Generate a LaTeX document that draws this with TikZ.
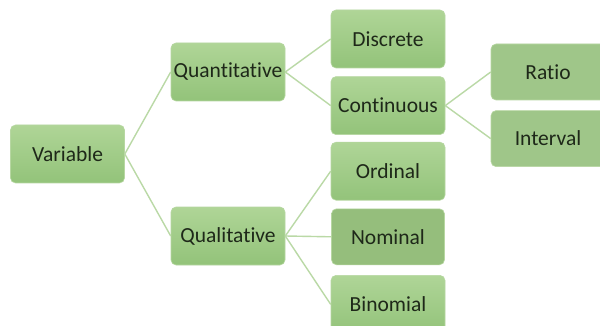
\documentclass[tikz,border=0pt]{standalone}
\usepackage{fontspec}
\setmainfont{Carlito}[RawFeature={-liga;-dlig;-calt;-clig}]
\usetikzlibrary{positioning}
\definecolor{leafline}{HTML}{B7D7A2}
\definecolor{leaftop}{HTML}{AFD597}
\definecolor{leafbottom}{HTML}{93C37A}
\definecolor{leafdark}{HTML}{95BE7C}
\definecolor{leafgrey}{HTML}{9FC689}
\definecolor{linkgreen}{HTML}{BAD9A6}
\definecolor{labeltext}{HTML}{1E2819}
\begin{document}
\begin{tikzpicture}[x=1pt, y=-1pt, node distance=8pt and 46pt,
  every node/.style={font=\fontsize{21.5}{24}\selectfont, text=labeltext},
  box/.style={draw=leafline, line width=0.6pt, top color=leaftop, bottom color=leafbottom, rounded corners=5pt,
    minimum width=114pt, minimum height=58pt, inner sep=0pt},
  flatbox/.style={box, top color=leafdark, bottom color=leafdark},
  greybox/.style={box, top color=leafgrey, bottom color=leafgrey, minimum height=56pt},
  link/.style={draw=linkgreen, line width=1.4pt}]
\useasboundingbox[fill=white] (0,0) rectangle (600,326);
\node[box] (var) at (67.5,154) {Variable};
\node[box] (quant) at (228,72) {Quantitative};
\node[box] (qual) at (228,236) {Qualitative};
\node[box] (disc) at (388,39) {Discrete};
\node[box, below=of disc] (cont) {Continuous};
\node[box, below=7pt of cont] (ord) {Ordinal};
\node[flatbox, below=of ord, minimum width=113pt, minimum height=56pt] (nom) {Nominal};
\node[box, below=10pt of nom] (binom) {Binomial};
\node[greybox] (ratio) at (548,72) {Ratio};
\node[greybox, below=10pt of ratio] (intv) {Interval};
\draw[link] (var.east) -- (quant.west); \draw[link] (var.east) -- (qual.west);
\draw[link] (quant.east) -- (disc.west); \draw[link] (quant.east) -- (cont.west);
\draw[link] (cont.east) -- (ratio.west); \draw[link] (cont.east) -- (intv.west);
\draw[link] (qual.east) -- (ord.west); \draw[link] (qual.east) -- (nom.west); \draw[link] (qual.east) -- (binom.west);
\end{tikzpicture}
\end{document}
